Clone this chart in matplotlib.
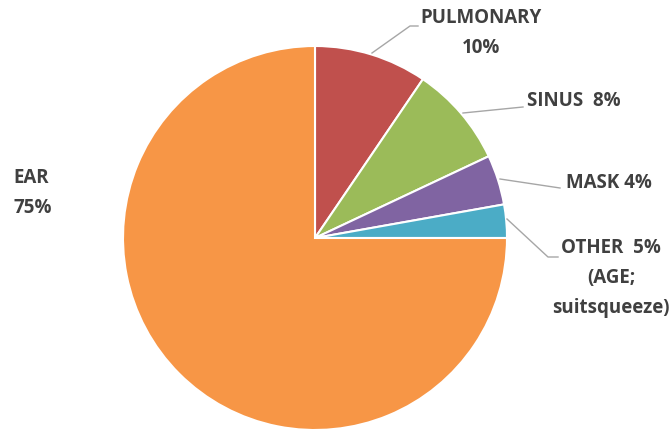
import matplotlib.pyplot as plt

# slice data, clockwise from 12 o'clock
categories = ['PULMONARY', 'SINUS', 'MASK', 'OTHER', 'EAR']
shares = [9.5, 8.5, 4.2, 2.8, 75]
colors = ['#C0504D', '#9BBB59', '#8064A2', '#4BACC6', '#F79646']
label_texts = ['PULMONARY\n10%', 'SINUS  8%', 'MASK 4%',
               'OTHER  5%\n(AGE;\nsuitsqueeze)', 'EAR\n75%']

W, H = 672, 430
CX, CY, R = 315, 238, 192


def px(x, y):
    # pixel (from top-left) -> data coords, pie radius = 1
    return (x - CX) / R, (CY - y) / R


fig = plt.figure(figsize=(W / 100, H / 100), dpi=100)
fig.patch.set_facecolor('white')
ax = fig.add_axes([0, 0, 1, 1])

ax.pie(shares, colors=colors, startangle=90, counterclock=False, radius=1,
       wedgeprops=dict(edgecolor='white', linewidth=1.5))
ax.set_xlim(-CX / R, (W - CX) / R)
ax.set_ylim(-(H - CY) / R, CY / R)
ax.set_aspect('equal')
ax.axis('off')

txt = dict(color='#404040', fontsize=13.5, fontweight='bold',
           family=['Open Sans', 'DejaVu Sans'], linespacing=1.65)
line = dict(color='#A6A6A6', linewidth=1)

# leader lines (pixel waypoints)
leaders = [
    [(372, 53), (410, 26), (418, 26)],
    [(463, 113), (523, 107)],
    [(500, 179), (560, 188)],
    [(507, 219), (548, 257), (558, 257)],
]
for pts in leaders:
    xs, ys = zip(*[px(*p) for p in pts])
    ax.plot(xs, ys, **line)

# label positions (pixels) and alignment
ax.text(*px(481, 33), label_texts[0], ha='center', va='center', **txt)
ax.text(*px(527, 101), label_texts[1], ha='left', va='center', **txt)
ax.text(*px(566, 183), label_texts[2], ha='left', va='center', **txt)
ax.text(*px(611, 278), label_texts[3], ha='center', va='center', **txt)
ax.text(*px(13, 193), label_texts[4], ha='left', va='center', **txt)

fig.savefig('out.png', dpi=100, facecolor='white')
